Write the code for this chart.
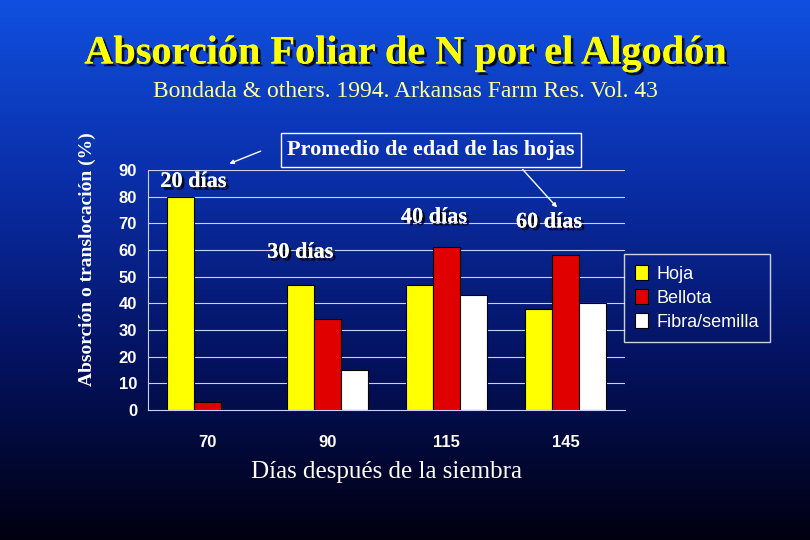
import numpy as np, pandas as pd, matplotlib
matplotlib.use("Agg")
import matplotlib.pyplot as plt, seaborn as sns
import matplotlib.patheffects as pe

days = ["70", "90", "115", "145"]
series = ["Hoja", "Bellota", "Fibra/semilla"]
hoja = [80, 47, 47, 38]
bellota = [3, 34, 61, 58]
fibra = [0, 15, 43, 40]
colors = ["#ffff00", "#e00000", "#ffffff"]

df = pd.DataFrame({"dia": days * 3, "serie": sum([[s] * 4 for s in series], []),
                   "val": hoja + bellota + fibra})

sns.set_style("white")
fig = plt.figure(figsize=(8.1, 5.4), dpi=100)
bg = fig.add_axes([0, 0, 1, 1], zorder=-10)
grad = np.linspace(0, 1, 256)[:, None]
from matplotlib.colors import LinearSegmentedColormap
cm = LinearSegmentedColormap.from_list("b", ["#1050e0", "#0a2ea8", "#041260", "#000010"])
bg.imshow(grad, aspect="auto", cmap=cm, extent=[0, 1, 0, 1], origin="upper")
bg.axis("off")

ax = fig.add_axes([0.183, 0.241, 0.589, 0.444])
ax.patch.set_alpha(0)
sns.barplot(data=df, x="dia", y="val", hue="serie", palette=colors, edgecolor="black",
            linewidth=0.8, width=0.68, ax=ax, saturation=1)
ax.set_ylim(0, 90)
ax.set_yticks(range(0, 91, 10))
for y in range(10, 91, 10):
    ax.axhline(y, color="#c8d0ff", lw=0.8, zorder=0)
for s in ["top", "right"]:
    ax.spines[s].set_visible(False)
for s in ["left", "bottom"]:
    ax.spines[s].set_color("#c8d0ff")
ax.tick_params(colors="white", labelsize=12, length=0, pad=8)
for t in ax.get_xticklabels() + ax.get_yticklabels():
    t.set_fontweight("bold"); t.set_fontfamily("Liberation Sans")
ax.tick_params(axis="x", pad=18)
ax.set_xlabel("Días después de la siembra", color="white", fontsize=18,
              family="Liberation Serif", labelpad=8)
ax.set_ylabel("")
fig.text(0.108, 0.52, "Absorción o translocación (%)", rotation=90, color="white",
         family="Liberation Serif", weight="bold", fontsize=14, ha="center", va="center")
leg = ax.legend(loc="upper left", bbox_to_anchor=(0.99, 0.665), frameon=True, fontsize=13,
                handlelength=0.7, handleheight=0.9, borderpad=0.3, labelspacing=0.35,
                handletextpad=0.5)
leg.get_frame().set_facecolor("none"); leg.get_frame().set_edgecolor("white")
leg.get_frame().set_boxstyle("square")
for t in leg.get_texts():
    t.set_color("white"); t.set_family("Liberation Sans")

sh = [pe.withSimplePatchShadow(offset=(2, -2), shadow_rgbFace="black", alpha=0.8), pe.Normal()]
fig.text(0.5, 0.9, "Absorción Foliar de N por el Algodón", ha="center", va="center",
         color="#ffff00", fontsize=29, weight="bold", family="Liberation Serif", path_effects=sh)
fig.text(0.5, 0.83, "Bondada & others. 1994. Arkansas Farm Res. Vol. 43", ha="center",
         va="center", color="#ffff99", fontsize=17, family="Liberation Serif")
kw = dict(color="white", fontsize=16, weight="bold", family="Liberation Serif",
          va="center", path_effects=sh)
fig.text(0.198, 0.663, "20 días", **kw)
fig.text(0.33, 0.532, "30 días", **kw)
fig.text(0.495, 0.597, "40 días", **kw)
fig.text(0.637, 0.588, "60 días", **kw)
fig.text(0.532, 0.722, "Promedio de edad de las hojas", color="white", fontsize=16,
         weight="bold", family="Liberation Serif", ha="center", va="center",
         bbox=dict(boxstyle="square,pad=0.3", fc="none", ec="white", lw=1))
fig.add_artist(matplotlib.patches.FancyArrowPatch((0.643, 0.69), (0.69, 0.612),
               transform=fig.transFigure, color="white", arrowstyle="-|>", mutation_scale=6, lw=1))
fig.add_artist(matplotlib.patches.FancyArrowPatch((0.325, 0.722), (0.28, 0.695),
               transform=fig.transFigure, color="white", arrowstyle="-|>", mutation_scale=6, lw=1))
fig.savefig("out.png", dpi=100)
